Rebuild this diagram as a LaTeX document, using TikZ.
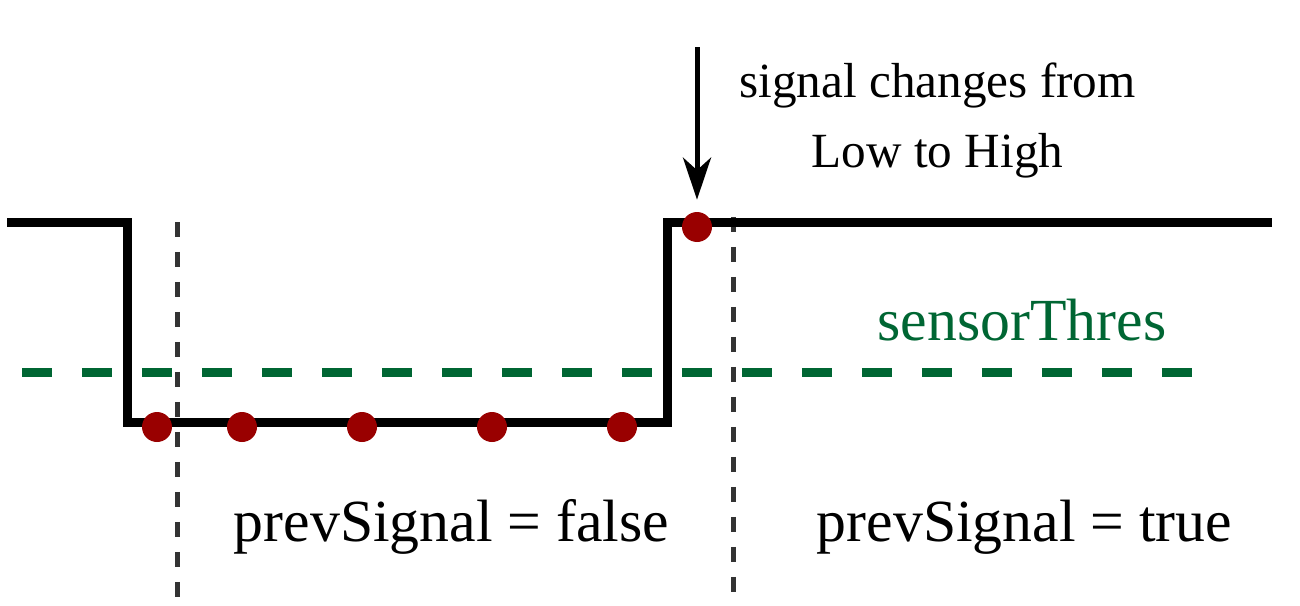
\documentclass[tikz,border=0pt]{standalone}
\usepackage{fontspec}
\setmainfont{Liberation Serif}
\usetikzlibrary{arrows.meta}

\definecolor{thresgreen}{HTML}{006633}
\definecolor{dotred}{HTML}{990000}
\definecolor{guidegray}{HTML}{333333}

\begin{document}
\begin{tikzpicture}[
    x=0.02cm, y=-0.02cm,
    signal/.style={line width=0.18cm, line join=miter},
    sample/.style={circle, fill=dotred, inner sep=0pt, minimum size=0.6cm},
    guide/.style={guidegray, line width=0.1cm, dash pattern=on 0.3cm off 0.3cm},
    thres/.style={thresgreen, line width=0.18cm, dash pattern=on 0.6cm off 0.6cm},
    label/.style={anchor=base, font=\fontsize{34}{40}\selectfont},
    arrow/.style={-{Stealth[length=0.84cm, width=0.56cm, inset=0.25cm]}, line width=0.1cm}
]
\useasboundingbox (0,0) rectangle (1300,605);

% Threshold line
\coordinate (thresL) at (22,372);
\coordinate (thresR) at (1192,372);
\draw[thres] (thresL) -- (thresR);

% Guide lines
\coordinate (g1top) at (177,222);
\coordinate (g1bot) at (177,598);
\coordinate (g2top) at (733,217);
\coordinate (g2bot) at (733,592);
\draw[guide] (g1top) -- (g1bot);
\draw[guide] (g2top) -- (g2bot);

% Signal
\coordinate (s0) at (7,222);
\coordinate (s1) at (127.5,222);
\coordinate (s2) at (127.5,422);
\coordinate (s3) at (667.5,422);
\coordinate (s4) at (667.5,222);
\coordinate (s5) at (1272,222);
\draw[signal] (s0) -- (s1) -- (s2) -- (s3) -- (s4) -- (s5);

% Samples
\foreach \x [count=\i] in {157,242,362,492,622}
    \node[sample] (lo\i) at (\x,427) {};
\node[sample] (hi) at (697,227) {};

% Change marker
\coordinate (arrtop) at (697,47);
\draw[arrow, shorten >=0.24cm] (arrtop) -- (hi);
\node[anchor=base, align=center, font=\fontsize{28}{39.8}\selectfont] (change) at (937.5,167) {signal changes from\\Low to High};

% Labels
\node[label, text=thresgreen] (thresname) at (1022,340) {sensorThres};
\node[label] (prevfalse) at (451.5,541) {prevSignal = false};
\node[label] (prevtrue) at (1024.5,541) {prevSignal = true};

\end{tikzpicture}
\end{document}
